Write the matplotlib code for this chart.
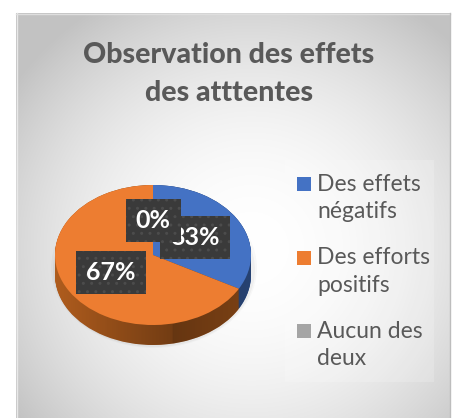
import numpy as np
import matplotlib
matplotlib.use("Agg")
import matplotlib.pyplot as plt
from matplotlib.patches import Rectangle, Ellipse, PathPatch
from matplotlib.path import Path

# ---- data ----
title = "Observation des effets\ndes atttentes"
categories = ["Des effets\nnégatifs", "Des efforts\npositifs", "Aucun des\ndeux"]
values = [33, 67, 0]
colors = ["#4472C4", "#ED7D31", "#A5A5A5"]
side_colors = ["#3A62A8", "#B8611F", "#7E7E7E"]

W, H = 455, 418
fig = plt.figure(figsize=(W / 100, H / 100), dpi=100)
fig.patch.set_facecolor("white")
FONT = ["Lato", "DejaVu Sans"]


def px_axes(x0, y0, x1, y1, z=0):
    return fig.add_axes([x0 / W, 1 - y1 / H, (x1 - x0) / W, (y1 - y0) / H], zorder=z)


# ---- background panel with radial gradient ----
bx0, by0, bx1, by1 = 16, 13, 450, 418
ax_bg = px_axes(bx0, by0, bx1, by1, z=0)
gw, gh = bx1 - bx0, by1 - by0
yy, xx = np.mgrid[0:gh, 0:gw]
cx, cy = 235, 235
d = np.sqrt(((xx - cx) / 260) ** 2 + ((yy - cy) / 255) ** 2)
v = 1.0 - 0.19 * np.minimum(d, 1.12) ** 2
img = np.dstack([v, v, v])
ax_bg.imshow(img, extent=(0, gw, gh, 0), aspect="auto", interpolation="bilinear")
ax_bg.set_xlim(0, gw)
ax_bg.set_ylim(gh, 0)
ax_bg.axis("off")

# overlay in pixel coords
ax = px_axes(0, 0, W, H, z=1)
ax.set_xlim(0, W)
ax.set_ylim(H, 0)
ax.axis("off")
ax.patch.set_alpha(0)
# panel borders
ax.plot([bx0 + 0.5, bx0 + 0.5], [by0, H], color="#e8e8e8", lw=1)
ax.plot([bx0, bx1], [by0 + 0.5, by0 + 0.5], color="#dedede", lw=1)
ax.plot([bx1 - 0.5, bx1 - 0.5], [by0, H], color="#bdbdbd", lw=1)

# title
ax.text(229, 74, title, ha="center", va="center", fontsize=20.5, fontweight=900,
        color="#595959", family=FONT, linespacing=1.58)

# legend background
ax.add_patch(Rectangle((285, 160), 149, 222, facecolor="white", alpha=0.18, lw=0))

# legend entries
for i, (lab, col) in enumerate(zip(categories, colors)):
    y = 184 + i * 73.5
    ax.add_patch(Rectangle((297, y - 7), 14, 14, facecolor=col, lw=0))
    ax.text(317, y - 10, lab, ha="left", va="top", fontsize=16.5, color="#595959",
            family=FONT, linespacing=1.38)

# ---- pie ----
depth = 20 / 70
# soft shadow
ax.add_patch(Ellipse((154, 268), 206, 160, facecolor="black", alpha=0.025, lw=0))
ax.add_patch(Ellipse((154, 270), 202, 154, facecolor="black", alpha=0.035, lw=0))

axp = px_axes(55, 185, 251, 345, z=2)
for off in np.linspace(depth, 0.0, 30):
    axp.pie(values, colors=side_colors, radius=1, center=(0, -off), startangle=90,
            counterclock=False, wedgeprops=dict(linewidth=0))

# shading of the side (darker toward the bottom-right)
th1 = np.linspace(0, np.pi, 100)
th2 = np.linspace(np.pi, 2 * np.pi, 100)
verts = np.vstack([np.c_[np.cos(th1), np.sin(th1)],
                   np.c_[np.cos(th2), np.sin(th2) - depth],
                   [[1, 0]]])
clip = PathPatch(Path(verts), transform=axp.transData, facecolor="none", lw=0)
axp.add_patch(clip)
gx = np.linspace(-1, 1, 200)
alpha = np.clip(0.05 + 0.55 * (gx + 1) / 2, 0, 0.5)
alpha = np.where(gx > 0.2, 0.45 - 0.15 * (gx - 0.2), alpha)
shade = np.zeros((1, 200, 4))
shade[0, :, 3] = alpha
im = axp.imshow(shade, extent=(-1, 1, -1 - depth, 1), aspect="auto", zorder=1.5)
im.set_clip_path(clip)

wedges, texts, autotexts = axp.pie(
    values, colors=colors, radius=1, center=(0, 0), startangle=90, counterclock=False,
    autopct="%1.0f%%", pctdistance=0.5,
    textprops=dict(color="white", fontsize=18, fontweight="bold", family=FONT),
    wedgeprops=dict(linewidth=0, zorder=2))
for w in wedges:
    w.set_zorder(2)
for t in autotexts:
    t.set_zorder(3)
    t.set_bbox(dict(boxstyle="square,pad=0.4", facecolor="#3a3a3a", edgecolor="#4c4c4c",
                    linewidth=0, hatch=".."))
axp.set_aspect("auto")
axp.set_xlim(-1, 1)
axp.set_ylim(-1 - depth, 1)
axp.axis("off")

fig.savefig("out.png", dpi=100, facecolor="white")
